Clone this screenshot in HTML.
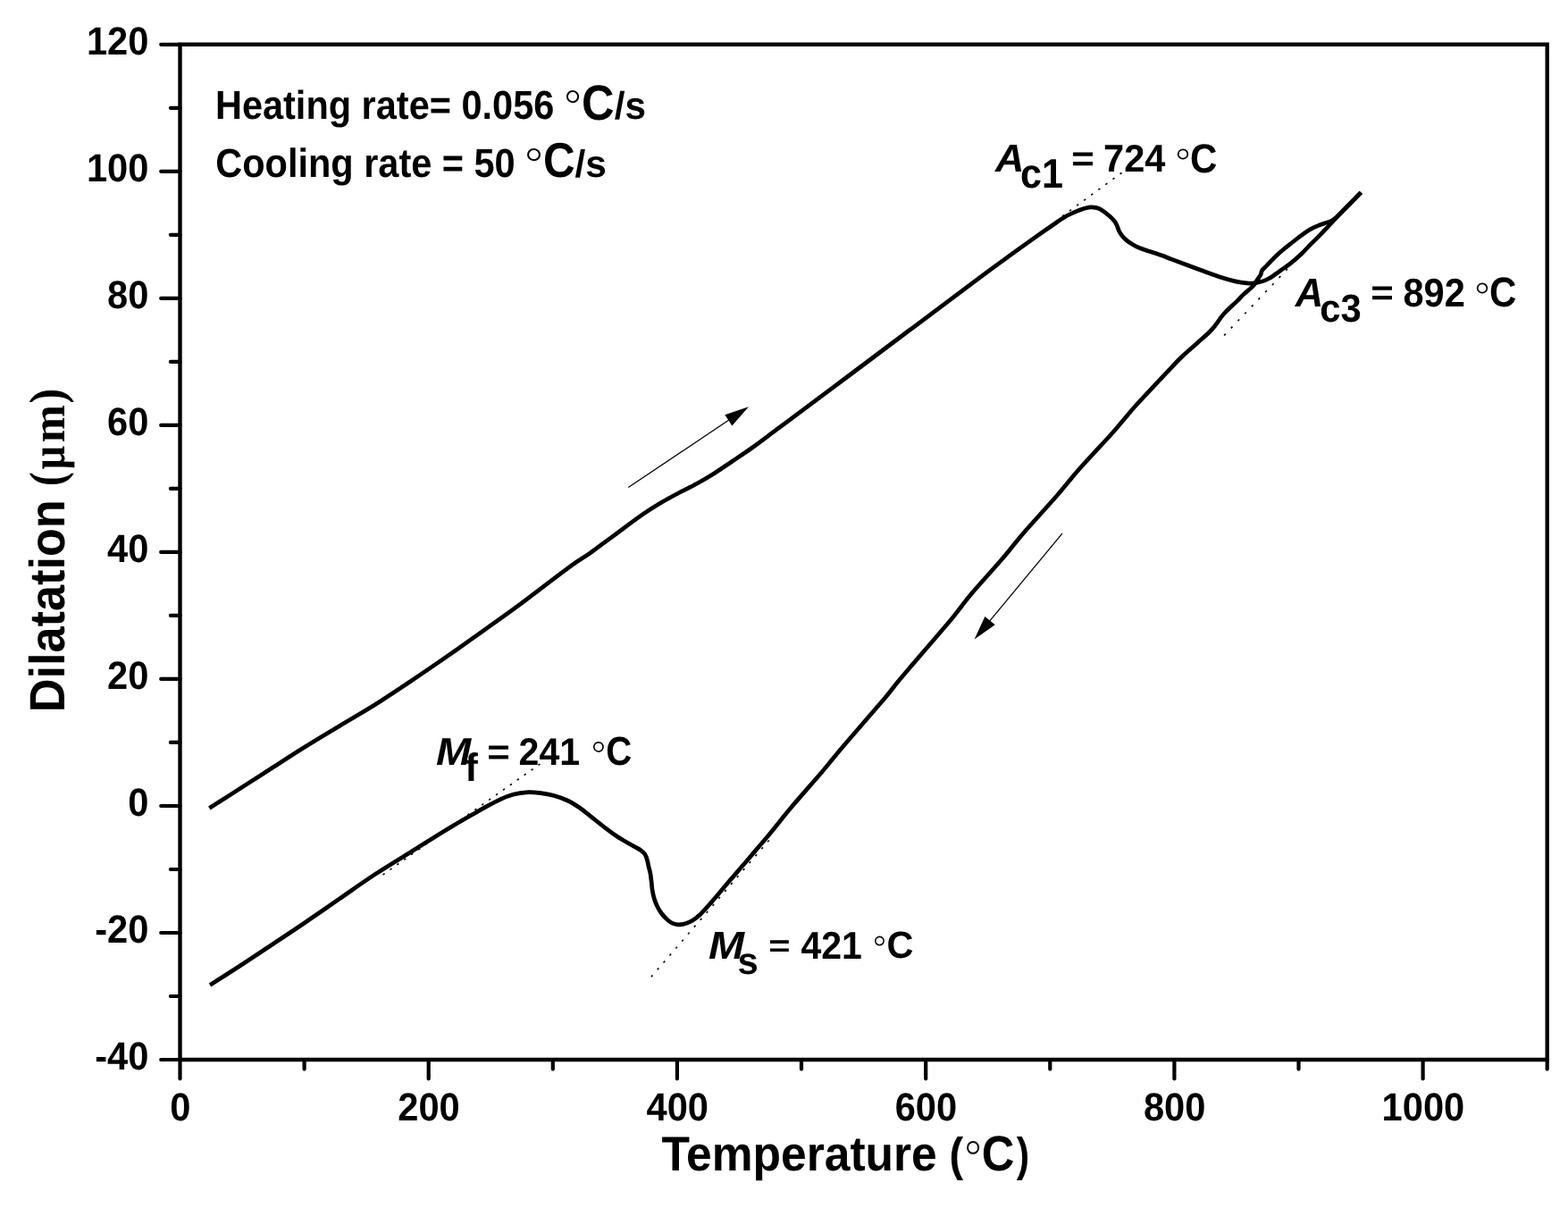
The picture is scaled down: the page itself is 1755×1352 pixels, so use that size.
<!DOCTYPE html>
<html lang="en"><head><meta charset="utf-8"><title>Dilatation vs. Temperature</title>
<style>
html,body{margin:0;padding:0;background:#fff;}
body{width:1755px;height:1352px;overflow:hidden;}
svg{display:block;}
text{font-family:"Liberation Sans",Arial,Helvetica,sans-serif;font-weight:bold;fill:#000;text-rendering:geometricPrecision;white-space:pre;}
.t{font-size:41.67px;}
.big{font-size:52.08px;}
.it{font-style:italic;}
.deg{font-family:"DejaVu Sans","Liberation Sans",sans-serif;font-weight:200;}
.ser{font-family:"Liberation Serif","Times New Roman",serif;font-weight:bold;}
.ax{stroke:#000;stroke-width:4.4;fill:none;stroke-linecap:butt;}
.tk{stroke:#000;stroke-width:4.2;fill:none;stroke-linecap:round;}
.cv{stroke:#000;stroke-width:4.70;fill:none;stroke-linejoin:round;stroke-linecap:butt;}
.dot{stroke:#000;stroke-width:1.60;fill:none;}
.ar{stroke:#000;stroke-width:1.30;fill:none;}
</style></head><body>
<svg xmlns="http://www.w3.org/2000/svg" width="1755" height="1352" viewBox="0 0 1755 1352">
<rect x="0" y="0" width="1755" height="1352" fill="#ffffff"/>
<g id="frame">
<path class="ax" stroke-linejoin="miter" d="M201.5 49.8H1731.7V1186.0H201.5Z"/>
</g>
<g id="ticks">
<line class="tk" x1="180.2" y1="1186.0" x2="201.5" y2="1186.0"/>
<line class="tk" x1="190.9" y1="1115.0" x2="201.5" y2="1115.0"/>
<line class="tk" x1="180.2" y1="1044.0" x2="201.5" y2="1044.0"/>
<line class="tk" x1="190.9" y1="973.0" x2="201.5" y2="973.0"/>
<line class="tk" x1="180.2" y1="902.0" x2="201.5" y2="902.0"/>
<line class="tk" x1="190.9" y1="830.9" x2="201.5" y2="830.9"/>
<line class="tk" x1="180.2" y1="759.9" x2="201.5" y2="759.9"/>
<line class="tk" x1="190.9" y1="688.9" x2="201.5" y2="688.9"/>
<line class="tk" x1="180.2" y1="617.9" x2="201.5" y2="617.9"/>
<line class="tk" x1="190.9" y1="546.9" x2="201.5" y2="546.9"/>
<line class="tk" x1="180.2" y1="475.9" x2="201.5" y2="475.9"/>
<line class="tk" x1="190.9" y1="404.9" x2="201.5" y2="404.9"/>
<line class="tk" x1="180.2" y1="333.9" x2="201.5" y2="333.9"/>
<line class="tk" x1="190.9" y1="262.8" x2="201.5" y2="262.8"/>
<line class="tk" x1="180.2" y1="191.8" x2="201.5" y2="191.8"/>
<line class="tk" x1="190.9" y1="120.8" x2="201.5" y2="120.8"/>
<line class="tk" x1="180.2" y1="49.8" x2="201.5" y2="49.8"/>
<line class="tk" x1="201.5" y1="1186.0" x2="201.5" y2="1207.3"/>
<line class="tk" x1="340.6" y1="1186.0" x2="340.6" y2="1196.6"/>
<line class="tk" x1="479.7" y1="1186.0" x2="479.7" y2="1207.3"/>
<line class="tk" x1="618.8" y1="1186.0" x2="618.8" y2="1196.6"/>
<line class="tk" x1="757.9" y1="1186.0" x2="757.9" y2="1207.3"/>
<line class="tk" x1="897.0" y1="1186.0" x2="897.0" y2="1196.6"/>
<line class="tk" x1="1036.2" y1="1186.0" x2="1036.2" y2="1207.3"/>
<line class="tk" x1="1175.3" y1="1186.0" x2="1175.3" y2="1196.6"/>
<line class="tk" x1="1314.4" y1="1186.0" x2="1314.4" y2="1207.3"/>
<line class="tk" x1="1453.5" y1="1186.0" x2="1453.5" y2="1196.6"/>
<line class="tk" x1="1592.6" y1="1186.0" x2="1592.6" y2="1207.3"/>
<line class="tk" x1="1731.7" y1="1186.0" x2="1731.7" y2="1196.6"/>
</g>
<g id="ylabels">
<text class="t" transform="translate(166.40 1197.30) scale(1 1.057)" text-anchor="end">-40</text>
<text class="t" transform="translate(166.40 1055.27) scale(1 1.057)" text-anchor="end">-20</text>
<text class="t" transform="translate(166.40 913.25) scale(1 1.057)" text-anchor="end">0</text>
<text class="t" transform="translate(166.40 771.22) scale(1 1.057)" text-anchor="end">20</text>
<text class="t" transform="translate(166.40 629.20) scale(1 1.057)" text-anchor="end">40</text>
<text class="t" transform="translate(166.40 487.18) scale(1 1.057)" text-anchor="end">60</text>
<text class="t" transform="translate(166.40 345.15) scale(1 1.057)" text-anchor="end">80</text>
<text class="t" transform="translate(166.40 203.13) scale(1 1.057)" text-anchor="end">100</text>
<text class="t" transform="translate(166.40 61.10) scale(1 1.057)" text-anchor="end">120</text>
</g>
<g id="xlabels">
<text class="t" transform="translate(201.80 1253.60) scale(1 1.057)" text-anchor="middle">0</text>
<text class="t" transform="translate(480.02 1253.60) scale(1 1.057)" text-anchor="middle">200</text>
<text class="t" transform="translate(758.24 1253.60) scale(1 1.057)" text-anchor="middle">400</text>
<text class="t" transform="translate(1036.45 1253.60) scale(1 1.057)" text-anchor="middle">600</text>
<text class="t" transform="translate(1314.67 1253.60) scale(1 1.057)" text-anchor="middle">800</text>
<text class="t" transform="translate(1592.89 1253.60) scale(1 1.057)" text-anchor="middle">1000</text>
</g>
<g id="xtitle">
<text class="t" style="font-size:52.08px" transform="translate(740.42 1309.80) scale(0.9895 1.0466)">Temperature</text>
<text class="t" style="font-size:52.08px" transform="translate(1062.45 1309.99) scale(0.9049 1.0094)">(</text>
<text class="t deg" style="font-size:52.08px" transform="translate(1075.97 1317.03) scale(1.0045 1.0705)">°</text>
<text class="t" style="font-size:52.08px" transform="translate(1098.82 1309.66) scale(0.975 1.0685)">C</text>
<text class="t" style="font-size:52.08px" transform="translate(1137.86 1309.99) scale(0.83 1.0094)">)</text>
</g>
<g id="ytitle" transform="rotate(-90)">
<text class="t" style="font-size:52.08px" transform="translate(-797.30 71.80) scale(1.0033 1.0661)">Dilatation</text>
<text class="t ser" style="font-size:52.08px" transform="translate(-544.09 71.24) scale(0.9121 1.0609)">(</text>
<text class="t ser" style="font-size:52.08px" transform="translate(-525.59 71.62) scale(0.89 1.026)">µ</text>
<text class="t ser" style="font-size:52.08px" transform="translate(-495.36 71.80) scale(0.9734 1.0065)">m</text>
<text class="t ser" style="font-size:52.08px" transform="translate(-451.66 71.24) scale(0.9868 1.0609)">)</text>
</g>
<g id="note-heating">
<text class="t" style="font-size:41.67px" transform="translate(240.92 132.90) scale(0.9962 1.0792)">Heating rate= 0.056</text>
<text class="t deg" style="font-size:52.08px" transform="translate(627.79 138.89) scale(1.0187 1.0134)">°</text>
<text class="t" style="font-size:52.08px" transform="translate(650.92 133.56) scale(0.9721 1.0672)">C</text>
<text class="t" style="font-size:41.67px" transform="translate(687.69 133.23) scale(1.0142 1.0377)">/s</text>
</g>
<g id="note-cooling">
<text class="t" style="font-size:41.67px" transform="translate(241.30 198.00) scale(0.9958 1.0848)">Cooling rate = 50</text>
<text class="t deg" style="font-size:52.08px" transform="translate(583.44 203.89) scale(1.0757 1.0134)">°</text>
<text class="t" style="font-size:52.08px" transform="translate(607.97 198.26) scale(0.9486 1.0523)">C</text>
<text class="t" style="font-size:41.67px" transform="translate(643.48 197.94) scale(1.0203 1.0281)">/s</text>
</g>
<g id="note-ac1">
<text class="t it" style="font-size:41.67px" transform="translate(1113.92 191.90) scale(1.0775 1.043)">A</text>
<text class="t" style="font-size:44px" transform="translate(1142.12 209.65) scale(0.98 1.0488)">c1</text>
<text class="t" style="font-size:41.67px" transform="translate(1199.29 190.54) scale(1.048 0.9525)">=</text>
<text class="t" style="font-size:41.67px" transform="translate(1235.01 191.90) scale(0.9984 1.0345)">724</text>
<text class="t deg" style="font-size:44px" transform="translate(1312.40 198.54) scale(1.0456 1.0306)">°</text>
<text class="t" style="font-size:44px" transform="translate(1331.97 192.65) scale(0.9559 1.0368)">C</text>
</g>
<g id="note-ac3">
<text class="t it" style="font-size:41.67px" transform="translate(1449.79 342.90) scale(1.0452 1.0778)">A</text>
<text class="t" style="font-size:44px" transform="translate(1477.17 359.51) scale(0.9489 0.9963)">c3</text>
<text class="t" style="font-size:41.67px" transform="translate(1534.29 340.54) scale(1.048 0.9525)">=</text>
<text class="t" style="font-size:41.67px" transform="translate(1570.48 343.26) scale(0.998 1.0745)">892</text>
<text class="t deg" style="font-size:44px" transform="translate(1647.40 348.54) scale(1.0456 1.0306)">°</text>
<text class="t" style="font-size:44px" transform="translate(1666.97 343.44) scale(0.9559 1.0625)">C</text>
</g>
<g id="note-mf">
<text class="t it" style="font-size:41.67px" transform="translate(488.07 855.80) scale(1.1293 1.0395)">M</text>
<text class="t" style="font-size:44px" transform="translate(520.35 874.00) scale(0.9938 1.0005)">f</text>
<text class="t" style="font-size:41.67px" transform="translate(545.19 854.50) scale(1.048 0.9461)">=</text>
<text class="t" style="font-size:41.67px" transform="translate(580.58 855.80) scale(0.985 1.0311)">241</text>
<text class="t deg" style="font-size:44px" transform="translate(658.77 862.10) scale(1.0119 1.0137)">°</text>
<text class="t" style="font-size:44px" transform="translate(678.25 856.46) scale(0.9142 1.024)">C</text>
</g>
<g id="note-ms">
<text class="t it" style="font-size:41.67px" transform="translate(793.05 1072.90) scale(1.1552 1.0464)">M</text>
<text class="t" style="font-size:44px" transform="translate(825.43 1089.59) scale(0.9517 0.9616)">s</text>
<text class="t" style="font-size:41.67px" transform="translate(860.27 1069.79) scale(1.0002 0.8255)">=</text>
<text class="t" style="font-size:41.67px" transform="translate(896.38 1072.90) scale(0.985 1.038)">421</text>
<text class="t deg" style="font-size:41.67px" transform="translate(974.20 1077.33) scale(0.9794 0.9812)">°</text>
<text class="t" style="font-size:41.67px" transform="translate(992.40 1072.49) scale(0.9947 1.0169)">C</text>
</g>
<g id="curves">
<path class="cv" d="M234.3 904.4C236.9 902.8 243.7 898.6 250.0 894.6C256.3 890.6 262.7 886.4 272.0 880.4C281.3 874.4 294.7 865.8 306.0 858.5C317.3 851.2 327.7 844.4 340.0 836.7C352.3 829.0 366.7 820.4 380.0 812.4C393.3 804.4 406.7 796.9 420.0 788.5C433.3 780.1 446.7 771.1 460.0 762.2C473.3 753.3 486.7 744.1 500.0 734.9C513.3 725.6 526.7 716.1 540.0 706.6C553.3 697.1 563.7 689.9 580.0 677.9C596.3 665.8 624.7 643.9 638.0 634.2C651.3 624.5 652.7 624.6 660.0 619.4C667.3 614.2 672.3 610.2 682.0 603.1C691.7 596.0 708.3 583.4 718.0 576.6C727.7 569.9 733.0 566.8 740.0 562.6C747.0 558.4 753.3 555.1 760.0 551.5C766.7 547.9 773.3 544.9 780.0 541.2C786.7 537.5 793.3 533.6 800.0 529.4C806.7 525.2 813.0 520.7 820.0 516.0C827.0 511.3 833.7 507.0 842.0 501.0C850.3 495.0 860.3 487.4 870.0 480.2C879.7 473.0 886.7 467.8 900.0 457.9C913.3 447.9 933.3 433.0 950.0 420.5C966.7 408.0 983.3 395.5 1000.0 383.0C1016.7 370.5 1033.3 358.1 1050.0 345.6C1066.7 333.1 1086.7 318.0 1100.0 308.1C1113.3 298.2 1120.0 293.4 1130.0 286.2C1140.0 278.9 1151.7 270.5 1160.0 264.6C1168.3 258.7 1174.7 254.5 1180.0 250.8C1185.3 247.2 1187.4 245.2 1192.0 242.7C1196.6 240.1 1203.7 237.1 1207.4 235.5C1211.2 233.9 1212.2 233.7 1214.5 233.1C1216.8 232.5 1219.0 231.9 1221.0 231.8C1223.0 231.7 1224.8 232.0 1226.5 232.4C1228.2 232.8 1228.8 232.6 1231.3 234.1C1233.8 235.6 1238.9 239.3 1241.5 241.5C1244.1 243.7 1245.5 245.3 1247.0 247.1C1248.5 248.9 1249.3 250.7 1250.2 252.5C1251.1 254.3 1251.5 256.4 1252.3 258.0C1253.1 259.6 1253.6 260.7 1254.8 262.3C1256.0 263.9 1257.5 265.8 1259.3 267.5C1261.1 269.2 1263.3 270.9 1265.5 272.3C1267.7 273.7 1269.7 274.9 1272.3 276.1C1274.9 277.3 1276.4 277.9 1281.0 279.5C1285.6 281.1 1294.8 284.0 1300.0 285.8C1305.2 287.6 1304.6 287.6 1311.9 290.4C1319.2 293.1 1334.5 298.9 1343.8 302.3C1353.1 305.7 1361.0 308.7 1367.7 310.8C1374.4 312.9 1379.0 314.1 1383.7 315.1C1388.4 316.1 1392.4 316.5 1395.7 316.8C1399.0 317.1 1401.2 317.1 1403.6 316.9C1406.0 316.7 1408.1 316.1 1410.0 315.6C1411.9 315.1 1413.4 314.7 1415.1 314.1C1416.8 313.5 1418.0 313.0 1420.1 311.8C1422.2 310.6 1425.2 308.5 1427.7 306.8C1430.2 305.1 1432.5 303.3 1435.2 301.4C1437.9 299.5 1440.4 298.1 1444.0 295.2C1447.6 292.3 1453.3 287.3 1456.8 284.0C1460.3 280.7 1462.0 278.4 1465.1 275.3C1468.2 272.2 1472.0 268.6 1475.2 265.4C1478.4 262.2 1481.3 259.1 1484.0 256.2C1486.7 253.3 1487.7 252.2 1491.5 248.2C1495.3 244.2 1501.7 237.5 1507.0 232.0C1512.3 226.5 1520.6 218.1 1523.3 215.3"/>
<path class="cv" d="M1523.3 215.3C1520.6 218.1 1511.5 227.4 1507.0 232.0C1502.5 236.6 1498.8 240.5 1496.0 243.0C1493.2 245.5 1492.5 245.9 1490.5 247.0C1488.5 248.1 1486.5 248.5 1484.0 249.4C1481.5 250.3 1478.4 251.3 1475.2 252.6C1472.0 253.9 1468.9 255.1 1465.1 257.4C1461.3 259.7 1456.8 263.3 1452.6 266.5C1448.4 269.7 1443.2 273.8 1440.0 276.4C1436.8 279.0 1435.6 279.8 1433.1 282.0C1430.6 284.2 1427.7 287.0 1425.1 289.6C1422.5 292.2 1419.7 295.3 1417.6 297.5C1415.5 299.7 1413.7 301.0 1412.6 302.6C1411.5 304.2 1411.8 305.7 1411.2 307.1C1410.6 308.5 1409.7 309.5 1408.8 310.9C1407.9 312.2 1407.1 313.6 1406.0 315.2C1404.9 316.8 1404.7 318.0 1402.3 320.4C1399.9 322.8 1394.6 326.9 1391.7 329.6C1388.8 332.3 1387.7 334.0 1385.0 336.6C1382.3 339.2 1378.0 343.1 1375.7 345.3C1373.4 347.5 1372.6 348.3 1371.0 350.0C1369.4 351.7 1368.1 353.2 1366.3 355.6C1364.5 358.0 1362.5 361.4 1360.3 364.1C1358.1 366.8 1356.6 368.7 1353.3 372.0C1350.0 375.3 1345.5 379.0 1340.3 383.7C1335.1 388.4 1327.8 394.4 1322.1 400.0C1316.3 405.6 1314.1 408.2 1305.8 417.0C1297.5 425.8 1280.1 444.2 1272.1 453.0C1264.0 461.8 1262.4 464.3 1257.5 470.0C1252.6 475.7 1250.9 478.2 1242.9 487.0C1234.9 495.8 1217.6 514.2 1209.7 523.0C1201.8 531.8 1200.1 534.3 1195.3 540.0C1190.5 545.7 1188.8 548.2 1181.0 557.0C1173.2 565.8 1156.5 584.2 1148.7 593.0C1141.0 601.8 1139.2 604.3 1134.5 610.0C1129.8 615.7 1128.1 618.2 1120.4 627.0C1112.8 635.8 1096.2 654.2 1088.6 663.0C1081.0 671.8 1079.6 674.3 1075.1 680.0C1070.5 685.7 1071.1 685.7 1061.5 697.0C1051.9 708.3 1027.4 736.7 1017.7 748.0C1008.0 759.3 1008.0 759.3 1003.4 765.0C998.7 770.7 999.4 770.7 989.8 782.0C980.2 793.3 955.4 821.7 945.7 833.0C936.0 844.3 936.3 844.3 931.5 850.0C926.8 855.7 925.0 858.2 917.4 867.0C909.8 875.8 893.6 894.2 886.1 903.0C878.6 911.8 876.9 914.3 872.3 920.0C867.6 925.7 862.6 932.0 858.4 937.0C854.2 942.0 851.6 945.0 847.2 950.1C842.8 955.2 837.6 961.5 832.2 967.8C826.9 974.0 820.1 981.7 815.1 987.6C810.1 993.5 806.1 998.3 802.1 1003.0C798.1 1007.7 794.2 1012.2 791.1 1015.6C788.0 1019.0 786.3 1021.0 783.7 1023.4C781.1 1025.8 778.2 1028.3 775.4 1030.0C772.6 1031.7 769.8 1033.0 767.0 1033.8C764.2 1034.6 761.3 1035.0 758.7 1034.8C756.1 1034.6 753.7 1034.0 751.5 1032.8C749.3 1031.6 747.2 1029.6 745.3 1027.8C743.4 1026.0 741.8 1024.2 740.2 1022.0C738.6 1019.8 737.0 1017.1 735.6 1014.3C734.2 1011.5 733.0 1008.3 732.1 1005.3C731.2 1002.3 730.6 999.1 730.1 996.2C729.6 993.4 729.6 991.2 729.3 988.2C728.9 985.2 728.5 981.2 728.0 978.2C727.5 975.2 726.7 972.9 726.1 970.2C725.5 967.5 725.0 964.5 724.3 962.1C723.6 959.7 723.0 957.8 721.8 956.0C720.6 954.2 719.0 953.0 717.1 951.6C715.2 950.2 712.4 948.9 710.5 947.8C708.6 946.7 708.9 947.0 705.5 945.0C702.1 943.0 695.4 939.3 690.4 936.0C685.4 932.7 680.4 928.8 675.4 925.0C670.4 921.2 664.9 916.6 660.4 913.1C655.9 909.6 652.5 906.6 648.3 903.8C644.1 900.9 640.0 898.2 635.3 896.0C630.6 893.8 625.2 891.9 620.2 890.5C615.2 889.1 610.4 888.2 605.2 887.6C600.0 887.0 594.1 886.5 589.1 886.8C584.1 887.0 579.9 887.8 575.1 889.1C570.3 890.4 566.0 891.9 560.1 894.6C554.2 897.3 545.0 902.4 540.0 905.1C535.0 907.8 537.1 906.8 530.4 910.7C523.7 914.6 511.7 921.4 500.0 928.5C488.3 935.6 473.3 945.1 460.0 953.4C446.7 961.7 433.3 969.6 420.0 978.4C406.7 987.1 393.3 996.7 380.0 1005.9C366.7 1015.1 352.3 1025.1 340.0 1033.5C327.7 1041.9 317.3 1048.7 306.0 1056.2C294.7 1063.8 281.3 1072.7 272.0 1078.8C262.7 1084.9 256.2 1089.0 250.0 1092.9C243.8 1096.8 237.5 1100.8 235.0 1102.4"/>
</g>
<g id="tangents">
<line class="dot" stroke-dasharray="2.40 7.60" x1="1189.0" y1="242.0" x2="1255.5" y2="193.3"/>
<line class="dot" stroke-dasharray="2.40 8.74" x1="1370.1" y1="375.4" x2="1440.9" y2="301.1"/>
<line class="dot" stroke-dasharray="2.40 7.27" x1="428.6" y1="979.0" x2="604.4" y2="855.1"/>
<line class="dot" stroke-dasharray="2.40 8.10" x1="728.9" y1="1093.3" x2="860.8" y2="940.4"/>
</g>
<g id="arrows">
<line class="ar" x1="703.3" y1="545.5" x2="817.0" y2="469.3"/>
<polygon fill="#000" points="838.0,455.2 819.4,476.5 811.3,464.3"/>
<line class="ar" x1="1188.9" y1="597.2" x2="1106.8" y2="696.1"/>
<polygon fill="#000" points="1090.6,715.6 1102.4,689.9 1113.7,699.3"/>
</g>
</svg></body></html>
